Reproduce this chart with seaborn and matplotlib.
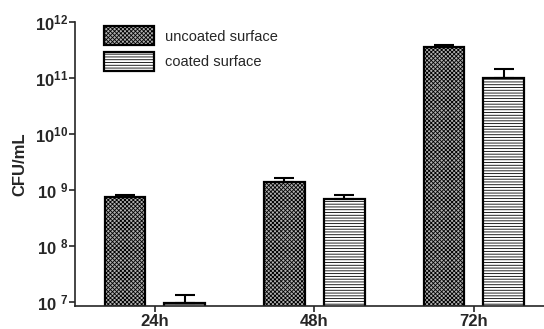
import matplotlib
matplotlib.use("Agg")
import matplotlib.pyplot as plt
from matplotlib.patches import Patch
import seaborn as sns
import pandas as pd
import numpy as np

# Data (CFU/mL)
times = ["24h", "48h", "72h"]
groups = ["uncoated surface", "coated surface"]
uncoated_mean = [7.4e8, 1.38e9, 3.5e11]
uncoated_err = [0.7e8, 0.24e9, 0.4e11]
coated_mean = [9.4e6, 6.8e8, 1.0e11]
coated_err = [3.6e6, 1.1e8, 0.45e11]
ytick_vals = [1e7, 1e8, 1e9, 1e10, 1e11, 1e12]
ytick_labels = ["10 $^{7}$", "10 $^{8}$", "10 $^{9}$", "10$^{10}$", "10$^{11}$", "10$^{12}$"]

df = pd.DataFrame({
    "time": times * 2,
    "group": [groups[0]] * 3 + [groups[1]] * 3,
    "value": uncoated_mean + coated_mean,
    "err": uncoated_err + coated_err,
})

sns.set_style("ticks")
plt.rcParams["font.family"] = ["Liberation Sans", "DejaVu Sans"]
plt.rcParams["mathtext.default"] = "regular"
plt.rcParams["hatch.linewidth"] = 0.6
plt.rcParams["hatch.color"] = "black"

unc_face = "#b0b0b0"
unc_hatch = "xxxxxxxx"
coat_hatch = "------"

fig = plt.figure(figsize=(5.44, 3.29), dpi=100)
ax = fig.add_axes([75 / 544, 23 / 329, 1 - 75 / 544, (306 - 22) / 329])
ax.set_yscale("log")

sns.barplot(data=df, x="time", y="value", hue="group", hue_order=groups,
            order=times, width=0.75, gap=0.32, errorbar=None, legend=False,
            palette=[unc_face, "white"], edgecolor="black", linewidth=1.6,
            ax=ax)

hatches = {0: unc_hatch, 1: coat_hatch}
for p in ax.patches:
    cx = p.get_x() + p.get_width() / 2
    idx = int(round(cx))
    h = 0 if cx < idx else 1
    p.set_hatch(hatches[h])
    row = df[(df["time"] == times[idx]) & (df["group"] == groups[h])].iloc[0]
    ax.errorbar(cx, row["value"], yerr=[[0], [row["err"]]], fmt="none",
                ecolor="black", elinewidth=1.5, capsize=7, capthick=1.5,
                zorder=1)

ax.set_xlim(-0.5, 2.44)
ax.set_ylim(10 ** 6.92, 1e12)
ax.set_yticks(ytick_vals)
ax.set_yticklabels(ytick_labels, fontsize=12, fontweight="bold")
ax.minorticks_off()
ax.tick_params(axis="x", labelsize=12, width=1.2, length=4, pad=2)
ax.tick_params(axis="y", width=1.2, length=4, pad=1)
for lab in ax.get_xticklabels():
    lab.set_fontweight("bold")
ax.set_xlabel("")
ax.set_ylabel("CFU/mL", fontsize=12, fontweight="bold", labelpad=5)
sns.despine(ax=ax)
for s in ["left", "bottom"]:
    ax.spines[s].set_linewidth(1.2)

handles = [Patch(facecolor=unc_face, edgecolor="black", hatch=unc_hatch, linewidth=1.6),
           Patch(facecolor="white", edgecolor="black", hatch=coat_hatch, linewidth=1.6)]
ax.legend(handles=handles, labels=groups, loc="upper left",
          bbox_to_anchor=(0.062, 0.985), frameon=False, fontsize=10.5,
          handlelength=3.4, handleheight=1.65, handletextpad=0.75,
          labelspacing=0.45, borderpad=0, borderaxespad=0)

fig.savefig("out.png", dpi=100)
